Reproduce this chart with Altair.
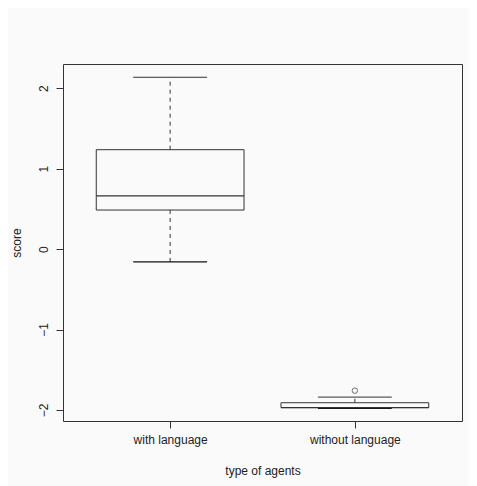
import altair as alt
import pandas as pd

categories = ["with language", "without language"]
lower_whisker = [-0.16, -1.98]
q1 = [0.485, -1.97]
median = [0.66, -1.97]
q3 = [1.235, -1.91]
upper_whisker = [2.135, -1.84]
outlier_cat = ["without language"]
outlier_val = [-1.76]

BOX_HALF = 0.4
CAP_HALF = 0.2

df = pd.DataFrame({
    "cat": categories,
    "pos": [i + 1 for i in range(len(categories))],
    "lw": lower_whisker, "q1": q1, "med": median, "q3": q3, "uw": upper_whisker,
})
df["bl"] = df["pos"] - BOX_HALF
df["br"] = df["pos"] + BOX_HALF
df["cl"] = df["pos"] - CAP_HALF
df["cr"] = df["pos"] + CAP_HALF

odf = pd.DataFrame({"cat": outlier_cat, "val": outlier_val})
odf["pos"] = [categories.index(c) + 1 for c in odf["cat"]]

FONT = "Liberation Sans"
LINE = "#333333"
TEXT = "#222222"
label_expr = "[" + ",".join("'" + c + "'" for c in categories) + "][datum.value - 1]"

xscale = alt.Scale(domain=[0.42, 2.58], nice=False, zero=False)
yscale = alt.Scale(domain=[-2.137, 2.30], nice=False, zero=False)

xaxis = alt.Axis(values=[1, 2], labelExpr=label_expr, title="type of agents",
                 domain=False, grid=False, tickSize=7, tickColor=LINE,
                 labelFont=FONT, labelFontSize=12, labelColor=TEXT, labelPadding=6,
                 titleFont=FONT, titleFontSize=12, titleFontWeight="normal",
                 titleColor=TEXT, titlePadding=20)
yaxis = alt.Axis(values=[-2, -1, 0, 1, 2], format="d", title="score", labelAngle=270,
                 domain=False, grid=False, tickSize=7, tickColor=LINE,
                 labelFont=FONT, labelFontSize=12, labelColor=TEXT, labelPadding=6,
                 titleFont=FONT, titleFontSize=12, titleFontWeight="normal",
                 titleColor=TEXT, titlePadding=14)

base = alt.Chart(df)

whisk_up = base.mark_rule(color=LINE, strokeDash=[4, 4], strokeWidth=1).encode(
    x=alt.X("pos:Q", scale=xscale, axis=xaxis),
    y=alt.Y("q3:Q", scale=yscale, axis=yaxis),
    y2="uw:Q",
)
whisk_lo = base.mark_rule(color=LINE, strokeDash=[4, 4], strokeWidth=1).encode(
    x="pos:Q", y="lw:Q", y2="q1:Q")
cap_up = base.mark_rule(color=LINE, strokeWidth=1).encode(x="cl:Q", x2="cr:Q", y="uw:Q")
cap_lo = base.mark_rule(color="#111111", strokeWidth=1.3).encode(x="cl:Q", x2="cr:Q", y="lw:Q")
box = base.mark_rect(fill="#fafafa", stroke=LINE, strokeWidth=1).encode(
    x="bl:Q", x2="br:Q", y="q1:Q", y2="q3:Q")
med = base.mark_rule(color=LINE, strokeWidth=1.2).encode(x="bl:Q", x2="br:Q", y="med:Q")
outl = alt.Chart(odf).mark_point(shape="circle", size=30, filled=False, color=LINE,
                                 strokeWidth=1).encode(x="pos:Q", y="val:Q")

chart = alt.layer(whisk_up, whisk_lo, cap_up, cap_lo, box, med, outl).properties(
    width=399, height=357,
    background="#fafafa",
    padding={"left": 55, "top": 56, "right": 7, "bottom": 65},
    autosize=alt.AutoSizeParams(type="none"),
).configure_view(stroke=LINE, strokeWidth=1)

chart.save("out.html", embed_options={"renderer": "svg", "actions": False})
